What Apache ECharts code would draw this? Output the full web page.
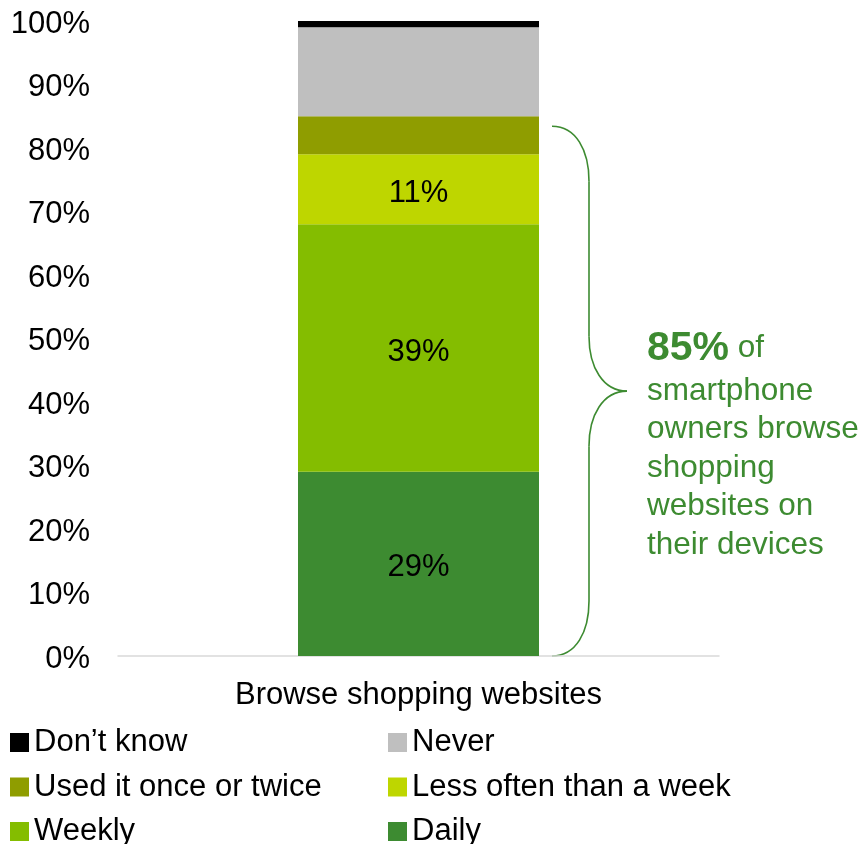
<!DOCTYPE html>
<html>
<head>
<meta charset="utf-8">
<script src="https://cdn.jsdelivr.net/npm/echarts@6/dist/echarts.min.js"></script>
<style>
  html, body { margin: 0; padding: 0; background: #fff; }
  #chart { width: 864px; height: 844px; }
</style>
</head>
<body>
<div id="chart"></div>
<script>
// Survey question shown on the x axis
const categories = ['Browse shopping websites'];

// Stacked shares (%), bottom to top
const seriesNames = ['Daily', 'Weekly', 'Less often than a week', 'Used it once or twice', 'Never', 'Don\u2019t know'];
const daily = [29];
const weekly = [39];
const lessOften = [11];
const usedOnce = [6];
const never = [14];
const dontKnow = [1];

// Value axis ticks
const yMin = 0;
const yMax = 100;
const yStep = 10;

// Bracketed share of owners who browse shopping websites
const browseShare = 85;

const colors = {
  'Daily': '#3D8B31',
  'Weekly': '#84BD00',
  'Less often than a week': '#BED600',
  'Used it once or twice': '#8F9D00',
  'Never': '#BFBFBF',
  'Don\u2019t know': '#000000'
};
const labelled = { 'Daily': true, 'Weekly': true, 'Less often than a week': true };
const seriesData = [daily, weekly, lessOften, usedOnce, never, dontKnow];

const FONT = '"Liberation Sans", Arial, sans-serif';
const FS = 31;
const GREEN = '#3D8B31';

const chart = echarts.init(document.getElementById('chart'), null, { renderer: 'canvas' });

const series = seriesNames.map((name, i) => ({
  name: name,
  type: 'bar',
  stack: 'total',
  barWidth: 241,
  data: seriesData[i],
  itemStyle: { color: colors[name] },
  label: {
    show: !!labelled[name],
    position: 'inside',
    offset: [0, 4],
    formatter: '{c}%',
    color: '#000',
    fontFamily: FONT,
    fontSize: FS
  },
  emphasis: { disabled: true }
}));

const legendText = { color: '#000', fontFamily: FONT, fontSize: FS, lineHeight: 31, padding: [3, 0, 0, 0] };
const legendBase = {
  orient: 'vertical',
  top: 725.5,
  height: 130,
  padding: 0,
  itemWidth: 19,
  itemHeight: 19,
  itemGap: 10.5,
  icon: 'rect',
  selectedMode: false,
  textStyle: legendText
};

chart.setOption({
  animation: false,
  backgroundColor: '#fff',
  grid: { left: 118, right: 145, top: 21, bottom: 188, containLabel: false },
  xAxis: {
    type: 'category',
    data: categories,
    axisLine: { show: true, lineStyle: { color: '#D9D9D9', width: 1.5 } },
    axisTick: { show: false },
    axisLabel: { color: '#000', fontFamily: FONT, fontSize: FS, margin: 24 }
  },
  yAxis: {
    type: 'value',
    min: yMin,
    max: yMax,
    interval: yStep,
    axisLine: { show: false },
    axisTick: { show: false },
    splitLine: { show: false },
    axisLabel: {
      color: '#000',
      fontFamily: FONT,
      fontSize: FS,
      margin: 28,
      formatter: '{t|{value}%}',
      rich: { t: { color: '#000', fontFamily: FONT, fontSize: FS, padding: [6, 0, 0, 0] } }
    }
  },
  legend: [
    Object.assign({ data: ['Don\u2019t know', 'Used it once or twice', 'Weekly'], left: 10 }, legendBase),
    Object.assign({ data: ['Never', 'Less often than a week', 'Daily'], left: 388 }, legendBase)
  ],
  series: series
});

// Curly brace beside the bar spanning 0 .. browseShare, with its caption
const p0 = chart.convertToPixel({ xAxisIndex: 0, yAxisIndex: 0 }, [0, 0]);
const pTop = chart.convertToPixel({ xAxisIndex: 0, yAxisIndex: 0 }, [0, browseShare]);
const x0 = p0[0] + 241 / 2 + 13;
const xm = x0 + 37;
const xt = x0 + 75;
const yTop = pTop[1] + 10;
const yBot = p0[1];
const yMid = (yTop + yBot) / 2;
const r = 55;
const braceStyle = { fill: null, stroke: GREEN, lineWidth: 1.6 };

function curve(x1, y1, c1x, c1y, c2x, c2y, x2, y2) {
  return {
    type: 'bezierCurve',
    silent: true,
    shape: { x1: x1, y1: y1, cpx1: c1x, cpy1: c1y, cpx2: c2x, cpy2: c2y, x2: x2, y2: y2 },
    style: braceStyle
  };
}
function seg(x1, y1, x2, y2) {
  return { type: 'line', silent: true, shape: { x1: x1, y1: y1, x2: x2, y2: y2 }, style: braceStyle };
}

chart.setOption({
  graphic: [
    curve(x0, yTop, x0 + 24, yTop, xm, yTop + 24, xm, yTop + r),
    seg(xm, yTop + r, xm, yMid - r),
    curve(xm, yMid - r, xm, yMid - 24, xm + 14, yMid, xt, yMid),
    curve(xt, yMid, xm + 14, yMid, xm, yMid + 24, xm, yMid + r),
    seg(xm, yMid + r, xm, yBot - r),
    curve(xm, yBot - r, xm, yBot - 24, x0 + 24, yBot, x0, yBot),
    {
      type: 'text',
      left: 647,
      top: 328,
      silent: true,
      style: {
        text: '{b|' + browseShare + '%} {r|of}\n{r|smartphone}\n{r|owners browse}\n{r|shopping}\n{r|websites on}\n{r|their devices}',
        fill: GREEN,
        font: '31.5px ' + FONT,
        rich: {
          b: { fontFamily: FONT, fontSize: 41, fontWeight: 'bold', fill: GREEN, color: GREEN, lineHeight: 47 },
          r: { fontFamily: FONT, fontSize: 31.5, fill: GREEN, color: GREEN, lineHeight: 38.5 }
        }
      }
    }
  ]
});
</script>
</body>
</html>
